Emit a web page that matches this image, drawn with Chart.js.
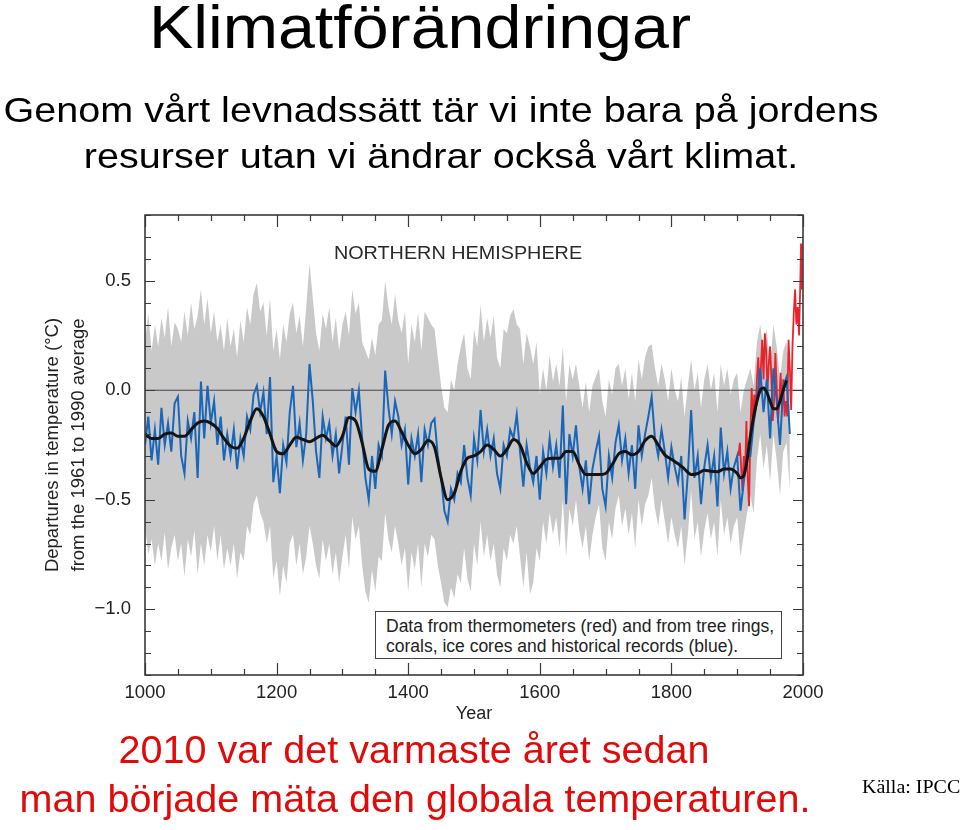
<!DOCTYPE html>
<html><head><meta charset="utf-8">
<script src="https://cdn.jsdelivr.net/npm/chart.js@4.4.1/dist/chart.umd.min.js"></script>
<style>
html,body{margin:0;padding:0;background:#fff;width:960px;height:830px;overflow:hidden;}
#wrap{position:relative;width:960px;height:830px;}
canvas{position:absolute;left:0;top:0;}
.t{position:absolute;white-space:nowrap;font-family:'Liberation Sans',Arial,sans-serif;line-height:1;transform-origin:50% 0;}
#box{position:absolute;left:375px;top:611px;width:407px;height:48px;border:1.5px solid #444;background:#fff;font-family:'Liberation Sans',Arial,sans-serif;font-size:17.5px;line-height:20px;color:#222;box-sizing:border-box;padding:4px 0 0 10px;white-space:nowrap;}
</style></head><body>
<div id="wrap">
<canvas id="c" width="960" height="830"></canvas>
<div class="t" style="left:420px;top:-4px;font-size:62px;color:#000;transform:translateX(-50%) scaleX(1.07)">Klimatförändringar</div>
<div class="t" style="left:441px;top:92px;font-size:35px;color:#000;transform:translateX(-50%) scaleX(1.13)">Genom vårt levnadssätt tär vi inte bara på jordens</div>
<div class="t" style="left:441px;top:138px;font-size:35px;color:#000;transform:translateX(-50%) scaleX(1.13)">resurser utan vi ändrar också vårt klimat.</div>
<div class="t" style="left:458px;top:244px;font-size:18.5px;color:#2a2a2a;transform:translateX(-50%) scaleX(1.07)">NORTHERN HEMISPHERE</div>
<div id="box">Data from thermometers (red) and from tree rings,<br>corals, ice cores and historical records (blue).</div>
<div class="t" style="left:414px;top:731px;font-size:38px;color:#e00a0a;transform:translateX(-50%) scaleX(1.04)">2010 var det varmaste året sedan</div>
<div class="t" style="left:415px;top:780px;font-size:38px;color:#e00a0a;transform:translateX(-50%) scaleX(1.04)">man började mäta den globala temperaturen.</div>
<div class="t" style="left:862px;top:778px;font-size:18px;color:#000;font-family:'Liberation Serif','Times New Roman',serif;transform-origin:0 0;transform:scaleX(1.11)">Källa: IPCC</div>
</div>
<script>
// ---- reconstruction (5-year samples, 1000..1980) ----
const recStart = 1000, recStep = 5;
const blueVals = [
-0.25,-0.12,-0.32,-0.18,-0.34,-0.08,-0.25,-0.15,-0.28,-0.06,-0.03,-0.30,-0.38,-0.14,-0.22,-0.10,-0.40,0.04,-0.22,0.02,
-0.15,-0.05,-0.25,-0.12,-0.32,-0.20,-0.30,-0.18,-0.36,-0.22,-0.30,-0.12,-0.18,-0.02,0.02,-0.10,-0.01,-0.20,0.06,-0.42,
-0.30,-0.47,-0.25,-0.33,-0.10,0.02,-0.26,-0.15,-0.32,-0.20,0.12,-0.05,-0.28,-0.40,-0.12,-0.22,-0.15,-0.30,-0.20,-0.38,
-0.25,-0.12,-0.34,0.01,-0.10,0.00,-0.22,-0.40,-0.50,-0.30,-0.45,-0.25,-0.30,0.09,-0.08,-0.20,-0.05,-0.12,-0.25,-0.18,
-0.43,-0.22,-0.30,-0.20,-0.42,-0.18,-0.25,-0.15,-0.13,-0.30,-0.40,-0.55,-0.60,-0.45,-0.50,-0.38,-0.42,-0.25,-0.40,-0.48,
-0.22,-0.32,-0.09,-0.28,-0.18,-0.30,-0.22,-0.38,-0.45,-0.25,-0.30,-0.18,-0.22,-0.11,-0.28,-0.44,-0.25,-0.35,-0.42,-0.30,
-0.50,-0.28,-0.38,-0.22,-0.35,-0.25,-0.40,-0.07,-0.52,-0.20,-0.30,-0.16,-0.35,-0.45,-0.32,-0.52,-0.36,-0.28,-0.21,-0.45,
-0.53,-0.30,-0.40,-0.24,-0.16,-0.32,-0.22,-0.38,-0.25,-0.45,-0.16,-0.30,-0.20,-0.12,-0.03,-0.22,-0.30,-0.18,-0.28,-0.40,
-0.26,-0.35,-0.42,-0.30,-0.59,-0.38,-0.09,-0.40,-0.30,-0.52,-0.35,-0.25,-0.40,-0.30,-0.53,-0.17,-0.38,-0.28,-0.45,-0.35,
-0.30,-0.55,-0.42,-0.30,-0.30,-0.15,-0.05,0.10,-0.10,0.05,-0.22,0.10,-0.05,-0.25,0.02,0.06,-0.20];
const upperVals = [
0.22,0.35,0.18,0.30,0.20,0.33,0.24,0.38,0.20,0.31,0.28,0.22,0.36,0.25,0.40,0.28,0.34,0.46,0.30,0.42,
0.26,0.36,0.22,0.30,0.18,0.33,0.20,0.28,0.15,0.32,0.22,0.38,0.30,0.44,0.49,0.36,0.40,0.25,0.42,0.18,
0.28,0.14,0.30,0.22,0.35,0.40,0.26,0.34,0.20,0.38,0.58,0.42,0.26,0.18,0.35,0.28,0.38,0.22,0.33,0.18,
0.30,0.36,0.25,0.46,0.35,0.40,0.22,0.18,0.14,0.24,0.16,0.30,0.32,0.50,0.38,0.30,0.44,0.32,0.26,0.36,
0.12,0.30,0.22,0.35,0.18,0.36,0.33,0.30,0.28,0.15,0.02,-0.08,-0.10,0.05,0.00,0.12,0.20,0.26,0.10,0.05,
0.28,0.20,0.39,0.22,0.33,0.24,0.34,0.15,0.10,0.28,0.26,0.34,0.37,0.30,0.28,0.12,0.26,0.20,0.12,0.22,
-0.02,0.10,0.00,0.16,0.04,0.12,0.02,0.20,-0.05,0.12,0.05,0.12,0.02,-0.08,0.04,-0.10,0.02,0.06,0.10,-0.05,
-0.12,0.05,-0.02,0.10,0.12,0.02,0.10,-0.04,0.08,-0.05,0.14,0.05,0.15,0.20,0.21,0.10,0.02,0.12,0.05,-0.05,
0.10,0.00,-0.05,0.06,-0.12,0.02,0.14,0.00,0.08,-0.08,0.05,0.12,0.00,0.08,-0.10,0.12,0.02,0.10,-0.02,0.05,
0.08,-0.10,0.00,0.05,0.10,0.02,0.22,0.30,0.18,0.28,0.10,0.30,0.20,0.05,0.18,0.22,0.00];
const lowerVals = [
-0.62,-0.75,-0.68,-0.80,-0.70,-0.78,-0.65,-0.82,-0.72,-0.66,-0.78,-0.70,-0.85,-0.68,-0.76,-0.64,-0.84,-0.70,-0.80,-0.66,
-0.74,-0.62,-0.78,-0.66,-0.82,-0.72,-0.80,-0.70,-0.86,-0.74,-0.78,-0.62,-0.66,-0.52,-0.48,-0.56,-0.60,-0.70,-0.62,-0.86,
-0.78,-0.94,-0.80,-0.88,-0.70,-0.66,-0.80,-0.70,-0.84,-0.76,-0.62,-0.70,-0.80,-0.86,-0.68,-0.78,-0.70,-0.84,-0.74,-0.88,
-0.76,-0.66,-0.82,-0.58,-0.68,-0.62,-0.80,-0.92,-0.97,-0.82,-0.92,-0.76,-0.78,-0.56,-0.68,-0.74,-0.62,-0.70,-0.80,-0.72,
-0.92,-0.74,-0.82,-0.70,-0.90,-0.70,-0.76,-0.66,-0.68,-0.80,-0.88,-0.97,-0.99,-0.90,-0.95,-0.84,-0.88,-0.72,-0.86,-0.92,
-0.70,-0.80,-0.60,-0.76,-0.66,-0.78,-0.70,-0.84,-0.90,-0.72,-0.78,-0.66,-0.70,-0.62,-0.76,-0.90,-0.74,-0.93,-0.88,-0.72,
-0.78,-0.60,-0.70,-0.56,-0.66,-0.58,-0.72,-0.50,-0.76,-0.54,-0.62,-0.50,-0.64,-0.72,-0.62,-0.78,-0.66,-0.58,-0.52,-0.72,
-0.78,-0.60,-0.68,-0.54,-0.48,-0.62,-0.54,-0.66,-0.56,-0.72,-0.50,-0.62,-0.52,-0.48,-0.40,-0.54,-0.62,-0.50,-0.60,-0.70,
-0.58,-0.66,-0.72,-0.62,-0.80,-0.66,-0.46,-0.68,-0.60,-0.76,-0.64,-0.56,-0.68,-0.60,-0.76,-0.50,-0.66,-0.58,-0.70,-0.62,
-0.58,-0.76,-0.66,-0.56,-0.48,-0.56,-0.32,-0.20,-0.36,-0.25,-0.42,-0.20,-0.32,-0.48,-0.28,-0.24,-0.46];
// ---- smoothed (black) ----
const smoothYears = [1000,1010,1020,1030,1040,1050,1060,1070,1080,1090,1100,1110,1120,1130,1140,1150,1160,1170,1180,1190,
1200,1210,1220,1230,1240,1250,1260,1270,1280,1290,1300,1310,1320,1330,1340,1350,1360,1370,1380,1390,
1400,1410,1420,1430,1440,1450,1460,1470,1480,1490,1500,1510,1520,1530,1540,1550,1560,1570,1580,1590,
1600,1610,1620,1630,1640,1650,1660,1670,1680,1690,1700,1710,1720,1730,1740,1750,1760,1770,1780,1790,
1800,1810,1820,1830,1840,1850,1860,1870,1880,1890,1900,1905,1910,1915,1920,1925,1930,1935,1940,1945,
1950,1955,1960,1965,1970,1975];
const smoothVals = [-0.20,-0.22,-0.22,-0.20,-0.195,-0.21,-0.21,-0.18,-0.15,-0.14,-0.15,-0.175,-0.22,-0.255,-0.265,-0.22,-0.14,-0.085,-0.12,-0.20,
-0.28,-0.29,-0.25,-0.215,-0.225,-0.235,-0.22,-0.205,-0.23,-0.255,-0.21,-0.125,-0.14,-0.24,-0.36,-0.37,-0.27,-0.16,-0.14,-0.19,
-0.25,-0.29,-0.27,-0.23,-0.26,-0.40,-0.50,-0.47,-0.37,-0.31,-0.30,-0.28,-0.25,-0.27,-0.30,-0.27,-0.225,-0.25,-0.33,-0.38,
-0.35,-0.315,-0.31,-0.31,-0.28,-0.28,-0.34,-0.385,-0.385,-0.385,-0.38,-0.34,-0.29,-0.28,-0.295,-0.28,-0.23,-0.21,-0.25,-0.295,
-0.315,-0.335,-0.36,-0.385,-0.38,-0.365,-0.37,-0.372,-0.36,-0.36,-0.38,-0.40,-0.39,-0.32,-0.21,-0.12,-0.05,0.00,0.01,-0.01,
-0.05,-0.085,-0.085,-0.05,0.00,0.045];
// ---- thermometer record (red) ----
const redYears = [1902,1904,1906,1908,1910,1912,1914,1916,1918,1920,1922,1924,1926,1928,1930,1932,1934,1936,1938,1940,
1942,1944,1946,1948,1950,1952,1954,1956,1958,1960,1962,1964,1966,1968,1970,1972,1974,1976,1978,1980,
1982,1984,1986,1988,1990,1992,1994,1996,1997,1998];
const redVals = [-0.30,-0.24,-0.35,-0.46,-0.30,-0.38,-0.14,-0.40,-0.53,-0.20,0.01,-0.15,-0.02,-0.09,0.05,0.15,0.00,0.10,0.23,0.05,
0.26,0.18,0.00,0.12,0.20,0.05,-0.14,-0.05,0.17,0.02,-0.15,-0.05,0.08,-0.10,0.05,-0.12,-0.05,-0.12,0.23,0.10,
-0.09,0.20,0.35,0.46,0.30,0.38,0.25,0.50,0.67,0.46];
// ---- axes ----
const xTickVals = [1000,1200,1400,1600,1800,2000];
const yTickVals = [0.5,0.0,-0.5,-1.0];
const xMin = 1000, xMax = 2000, yMin = -1.3, yMax = 0.8;
const zeroLineX = [xMin, xMax];

const recYears = blueVals.map((_, i) => recStart + recStep * i);
const pts = (xs, ys) => ys.map((v, i) => ({x: xs[i], y: v}));
const FONT = "'Liberation Sans', Arial, sans-serif";

const frameTicks = {
  id: 'frameTicks',
  afterDatasetsDraw(chart) {
    const {ctx, chartArea: a, scales: {x, y}} = chart;
    ctx.save();
    ctx.strokeStyle = '#3a3a3a';
    ctx.lineWidth = 1.2;
    ctx.beginPath();
    for (let k = Math.round(yMin * 10); k <= Math.round(yMax * 10); k++) {
      const py = Math.round(y.getPixelForValue(k / 10)) + 0.5;
      const L = (k % 5 === 0) ? 10 : 6;
      ctx.moveTo(a.left, py); ctx.lineTo(a.left + L, py);
      ctx.moveTo(a.right, py); ctx.lineTo(a.right - L, py);
    }
    for (let v = xMin; v <= xMax; v += 50) {
      const px = Math.round(x.getPixelForValue(v)) + 0.5;
      const L = (v % 200 === 0) ? 12 : 6;
      ctx.moveTo(px, a.bottom); ctx.lineTo(px, a.bottom - L);
      ctx.moveTo(px, a.top); ctx.lineTo(px, a.top + L);
    }
    ctx.stroke();
    ctx.lineWidth = 1.6;
    ctx.strokeRect(a.left, a.top, a.right - a.left, a.bottom - a.top);
    ctx.restore();
  }
};

new Chart(document.getElementById('c'), {
  type: 'line',
  data: {
    datasets: [
      {label: 'smoothed', data: pts(smoothYears, smoothVals), borderColor: '#141414', borderWidth: 3,
       pointRadius: 0, cubicInterpolationMode: 'monotone', order: 0},
      {label: 'reconstruction', data: pts(recYears, blueVals), borderColor: '#1a66b8', borderWidth: 2,
       pointRadius: 0, tension: 0, order: 1},
      {label: 'thermometers', data: pts(redYears, redVals), borderColor: '#e8232c', borderWidth: 1.8,
       pointRadius: 0, tension: 0, order: 2},
      {label: 'zero', data: pts(zeroLineX, [0, 0]), borderColor: '#444', borderWidth: 1,
       pointRadius: 0, order: 3},
      {label: 'upper', data: pts(recYears, upperVals), borderColor: 'rgba(0,0,0,0)', borderWidth: 0,
       backgroundColor: '#c9c9c9', fill: '+1', pointRadius: 0, tension: 0, order: 4},
      {label: 'lower', data: pts(recYears, lowerVals), borderColor: 'rgba(0,0,0,0)', borderWidth: 0,
       pointRadius: 0, tension: 0, fill: false, order: 5}
    ]
  },
  options: {
    responsive: false, animation: false, devicePixelRatio: 1,
    layout: {padding: {left: 30, right: 157, top: 215, bottom: 105}},
    plugins: {legend: {display: false}, tooltip: {enabled: false}},
    scales: {
      x: {
        type: 'linear', min: xMin, max: xMax,
        grid: {display: false, drawTicks: false}, border: {display: false},
        afterBuildTicks: s => { s.ticks = xTickVals.map(v => ({value: v})); },
        afterFit: s => { s.height = 50; },
        ticks: {padding: 7, color: '#222', font: {family: FONT, size: 18.5}, maxRotation: 0, autoSkip: false,
                callback: v => String(v)},
        title: {display: true, text: 'Year', color: '#222', font: {family: FONT, size: 18}, padding: {top: 2, bottom: 0}}
      },
      y: {
        type: 'linear', min: yMin, max: yMax,
        grid: {display: false, drawTicks: false}, border: {display: false},
        afterBuildTicks: s => { s.ticks = yTickVals.map(v => ({value: v})); },
        afterFit: s => { s.width = 115; },
        ticks: {padding: 14, color: '#222', font: {family: FONT, size: 18.5},
                callback: v => (v < 0 ? '\u2212' : '') + Math.abs(v).toFixed(1)},
        title: {display: true, text: ['Departures in temperature (\u00B0C)', 'from the 1961 to 1990 average'],
                color: '#222', font: {family: FONT, size: 18.5, lineHeight: 1.4}, padding: {top: 10, bottom: 0}}
      }
    }
  },
  plugins: [frameTicks]
});
</script>
</body></html>
